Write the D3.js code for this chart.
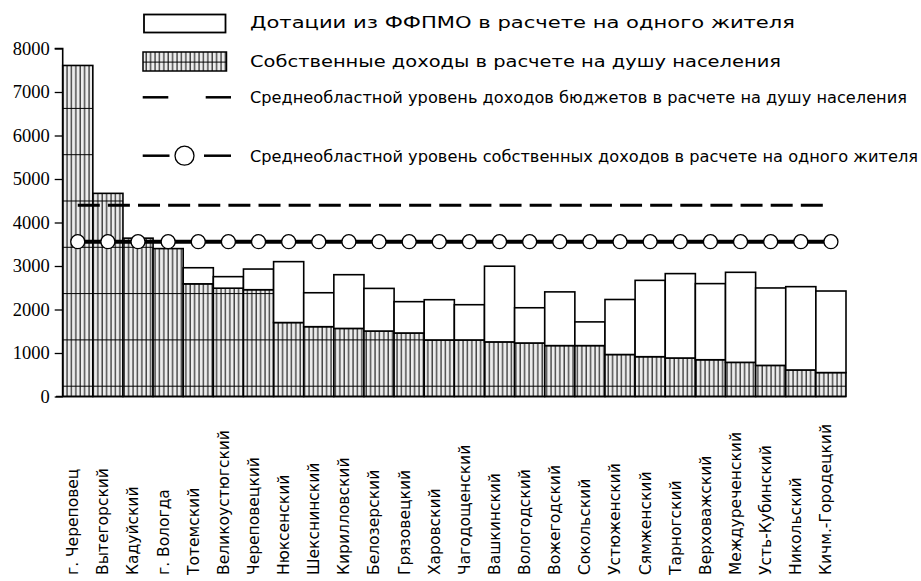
<!DOCTYPE html>
<html><head><meta charset="utf-8">
<script src="https://cdn.jsdelivr.net/npm/d3@7"></script>
<style>html,body{margin:0;padding:0;background:#fff}svg{display:block}
.ytick{font-family:"Liberation Serif","Times New Roman",serif !important;font-size:18.5px !important;}
</style>
</head><body>
<script>
const categories = ["г. Череповец","Вытегорский","Кадуйский","г. Вологда","Тотемский","Великоустюгский","Череповецкий","Нюксенский","Шекснинский","Кирилловский","Белозерский","Грязовецкий","Харовский","Чагодощенский","Вашкинский","Вологодский","Вожегодский","Сокольский","Устюженский","Сямженский","Тарногский","Верховажский","Междуреченский","Усть-Кубинский","Никольский","Кичм.-Городецкий"];
const ownIncome = [7610,4670,3640,3400,2590,2490,2455,1700,1605,1565,1505,1460,1300,1300,1255,1230,1170,1170,965,915,885,845,785,715,610,550];
const dotations = [0,0,0,0,370,265,475,1400,780,1235,980,720,925,810,1740,810,1235,545,1265,1755,1940,1750,2070,1780,1915,1875];
const avgBudget = 4395;
const avgOwn = 3560;
const yTicks = [0,1000,2000,3000,4000,5000,6000,7000,8000];
const legendLabels = [
  "Дотации из ФФПМО в расчете на одного жителя",
  "Собственные доходы в расчете на душу населения",
  "Среднеобластной уровень доходов бюджетов в расчете на душу населения",
  "Среднеобластной уровень собственных доходов в расчете на одного жителя"
];

const W = 921, H = 581;
const svg = d3.select("body").append("svg").attr("width", W).attr("height", H);
const defs = svg.append("defs");
const pat = defs.append("pattern").attr("id","hatch").attr("patternUnits","userSpaceOnUse")
  .attr("x",0).attr("y",15.3).attr("width",4.4).attr("height",46.3);
pat.append("rect").attr("width",4.4).attr("height",46.3).attr("fill","#ececec");
pat.append("line").attr("x1",1).attr("x2",1).attr("y1",0).attr("y2",46.3).attr("stroke","#000").attr("stroke-width",1);
pat.append("line").attr("x1",0).attr("x2",4.4).attr("y1",0.5).attr("y2",0.5).attr("stroke","#000").attr("stroke-width",1);

const x = d3.scaleBand().domain(categories).range([62.7, 846]).padding(0);
const y = d3.scaleLinear().domain([0, 8000]).range([396.5, 48.5]);
const bw = x.bandwidth();

// bars: own income (hatched)
svg.append("g").selectAll("rect").data(categories).join("rect")
  .attr("x", d => x(d)).attr("width", bw)
  .attr("y", (d,i) => y(ownIncome[i])).attr("height", (d,i) => y(0) - y(ownIncome[i]))
  .attr("fill","url(#hatch)").attr("stroke","#000").attr("stroke-width",1.6);
// dotations (white) stacked
svg.append("g").selectAll("rect").data(categories).join("rect")
  .attr("x", d => x(d)).attr("width", bw)
  .attr("y", (d,i) => y(ownIncome[i] + dotations[i])).attr("height", (d,i) => y(ownIncome[i]) - y(ownIncome[i] + dotations[i]))
  .attr("fill","#fff").attr("stroke","#000").attr("stroke-width",1.6)
  .style("display",(d,i) => dotations[i] > 0 ? null : "none");

// axes
const yAxis = d3.axisLeft(y).tickValues(yTicks).tickSize(8).tickFormat(d3.format("d"));
const gy = svg.append("g").attr("transform", `translate(${62.7},0)`).call(yAxis);
gy.select(".domain").attr("stroke","#000").attr("stroke-width",1.6).attr("d", `M-8,${y(8000)}H0V${y(0)}`);
gy.selectAll(".tick line").attr("stroke","#000").attr("stroke-width",1.3);
gy.selectAll(".tick text").attr("x",-13).attr("fill","#000").attr("class","ytick");
svg.append("line").attr("x1",56).attr("x2",846).attr("y1",y(0)).attr("y2",y(0)).attr("stroke","#000").attr("stroke-width",1.6);

// x labels
svg.append("g").selectAll("text").data(categories).join("text")
  .attr("transform", d => `translate(${x(d) + bw/2 - 5},575) rotate(-90)`)
  .attr("dy","0.35em")
  .attr("font-family","DejaVu Sans, Verdana, sans-serif").attr("font-size",15.5).attr("fill","#000")
  .text(d => d);

// average budget line (dashed)
const cx0 = x(categories[0]) + bw/2, cx1 = x(categories[categories.length-1]) + bw/2;
svg.append("line").attr("x1",cx0).attr("x2",cx1).attr("y1",y(avgBudget)).attr("y2",y(avgBudget))
  .attr("stroke","#000").attr("stroke-width",3).attr("stroke-dasharray",`22 ${bw-22}`);
// average own line with circles
svg.append("line").attr("x1",cx0).attr("x2",cx1).attr("y1",y(avgOwn)).attr("y2",y(avgOwn))
  .attr("stroke","#000").attr("stroke-width",4);
svg.append("g").selectAll("circle").data(categories).join("circle")
  .attr("cx", d => x(d) + bw/2).attr("cy", y(avgOwn)).attr("r",7)
  .attr("fill","#fff").attr("stroke","#000").attr("stroke-width",1.3);

// legend
const lg = svg.append("g");
lg.append("rect").attr("x",144).attr("y",14.5).attr("width",81.5).attr("height",18).attr("fill","#fff").attr("stroke","#000").attr("stroke-width",1.8);
lg.append("rect").attr("x",143).attr("y",52).attr("width",83.5).attr("height",19).attr("fill","url(#hatch)").attr("stroke","#000").attr("stroke-width",1.5);
lg.append("line").attr("x1",142.7).attr("x2",168.3).attr("y1",97.3).attr("y2",97.3).attr("stroke","#000").attr("stroke-width",2.5);
lg.append("line").attr("x1",205.7).attr("x2",231).attr("y1",97.3).attr("y2",97.3).attr("stroke","#000").attr("stroke-width",2.5);
lg.append("line").attr("x1",142.7).attr("x2",169.5).attr("y1",155.7).attr("y2",155.7).attr("stroke","#000").attr("stroke-width",2.5);
lg.append("line").attr("x1",204).attr("x2",231).attr("y1",155.7).attr("y2",155.7).attr("stroke","#000").attr("stroke-width",2.5);
lg.append("circle").attr("cx",184.5).attr("cy",155.7).attr("r",9.5).attr("fill","#fff").attr("stroke","#000").attr("stroke-width",1.3);
const legY = [23, 62, 97.5, 156.5];
const legLen = [545, 531, 657, 668];
lg.selectAll("text").data(legendLabels).join("text")
  .attr("x",250).attr("y",(d,i) => legY[i]).attr("dy","0.35em")
  .attr("font-family","DejaVu Sans, Verdana, sans-serif").attr("font-size",15.5).attr("fill","#000")
  .attr("textLength",(d,i) => legLen[i]).attr("lengthAdjust","spacingAndGlyphs")
  .text(d => d);
</script>
</body></html>
